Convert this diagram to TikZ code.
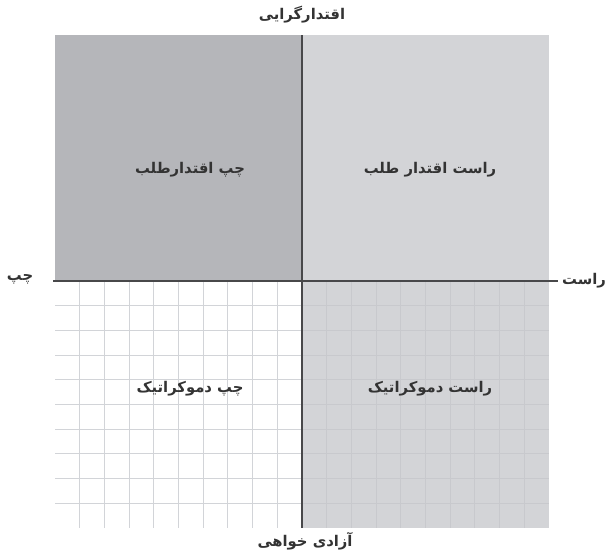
\documentclass[tikz,border=0pt]{standalone}
\usepackage{fontspec}
\usepackage{xcolor}
\newfontfamily\arabicfont[Script=Arabic]{DejaVu Sans}
\TeXXeTstate=1
\definecolor{darkquad}{HTML}{B5B6BA}
\definecolor{lightquad}{HTML}{D3D4D7}
\definecolor{gridwhite}{HTML}{D2D4D8}
\definecolor{gridgray}{HTML}{C8C9CD}
\definecolor{axisgray}{HTML}{48484A}

\begin{document}
\begin{tikzpicture}[
  x=0.025cm, y=-0.025cm,
  every node/.style={inner sep=1pt},
  fa/.style={font=\arabicfont\bfseries\fontsize{10.5}{13}\selectfont, text=black!80},
  quadlbl/.style={font=\arabicfont\bfseries\fontsize{10.5}{13}\selectfont, text=black!80},
  axisline/.style={line width=1.3pt, color=axisgray},
  gridw/.style={line width=0.8pt, color=gridwhite},
  gridg/.style={line width=0.8pt, color=gridgray}
]
\useasboundingbox (0,0) rectangle (609,555);

%% square edges and centre
\def\xL{55}
\def\xM{302}
\def\xR{549}
\def\yT{35}
\def\yM{281}
\def\yB{528}
\def\cell{24.7}

%% === QUADRANT FILLS ===
\fill[darkquad]  (\xL,\yT) rectangle (\xM,\yM);
\fill[lightquad] (\xM,\yT) rectangle (\xR,\yM);
\fill[lightquad] (\xM,\yM) rectangle (\xR,\yB);

%% === GRIDS (lower half) ===
\foreach \i in {1,...,9} {
  \draw[gridw] (\xL+\i*\cell,\yM) -- (\xL+\i*\cell,\yB);
  \draw[gridw] (\xL,\yM+\i*\cell) -- (\xM,\yM+\i*\cell);
  \draw[gridg] (\xM+\i*\cell,\yM) -- (\xM+\i*\cell,\yB);
  \draw[gridg] (\xM,\yM+\i*\cell) -- (\xR,\yM+\i*\cell);
}

%% === AXIS LABELS ===
\node[fa] (top)   at (302,15)  {\beginR اقتدارگرایی\endR};
\node[fa] (bot)   at (305,541) {\beginR آزادی خواهی\endR};
\node[fa] (left)  at (20,279)  {\beginR چپ\endR};
\node[fa] (right) at (584,281) {\beginR راست\endR};

%% === QUADRANT LABELS ===
\node[quadlbl] (al) at (190,170) {\beginR چپ اقتدارطلب\endR};
\node[quadlbl] (ar) at (430,170) {\beginR راست اقتدار طلب\endR};
\node[quadlbl] (dl) at (190,389) {\beginR چپ دموکراتیک\endR};
\node[quadlbl] (dr) at (430,389) {\beginR راست دموکراتیک\endR};

%% === AXES ===
\coordinate (axW) at (53,\yM);
\coordinate (axE) at (558,\yM);
\coordinate (axN) at (\xM,\yT);
\coordinate (axS) at (\xM,\yB);
\draw[axisline] (axW) -- (axE);
\draw[axisline] (axN) -- (axS);

\end{tikzpicture}
\end{document}
